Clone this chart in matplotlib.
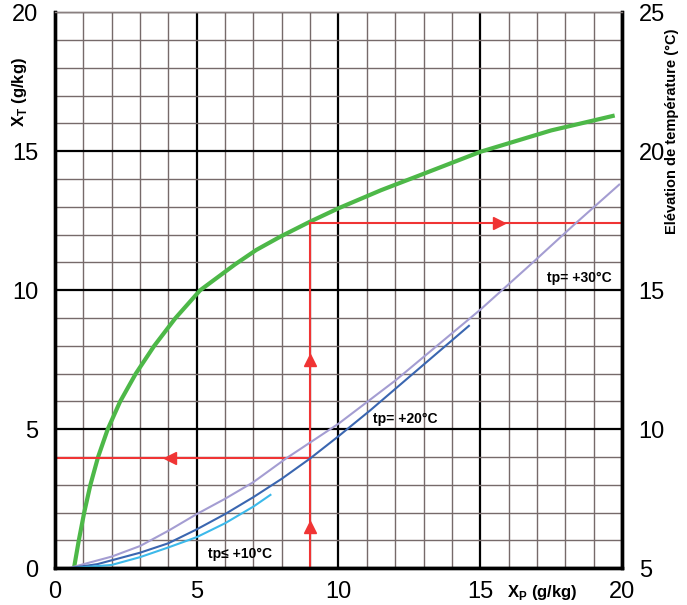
import matplotlib
matplotlib.use('Agg')
import matplotlib.pyplot as plt
from matplotlib.ticker import MultipleLocator

plt.rcParams['font.family'] = ['Liberation Sans', 'DejaVu Sans']
plt.rcParams['mathtext.fontset'] = 'custom'
plt.rcParams['mathtext.rm'] = 'Liberation Sans:bold'

# courbe verte : XT = f(XP)
green_x = [0.67, 0.84, 1.03, 1.25, 1.52, 1.86, 2.3, 2.85, 3.5, 4.25, 5.12, 6.35,
           7.1, 7.95, 9.0, 10.0, 11.5, 12.9, 15.0, 17.5, 19.67]
green_y = [0, 1, 2, 3, 4, 5, 6, 7, 8, 9, 10, 10.93,
           11.45, 11.93, 12.47, 12.95, 13.6, 14.15, 14.98, 15.75, 16.27]

# élévation de température (axe de droite)
tp30_x = [0.47, 2.0, 3.0, 4.0, 5.0, 6.0, 7.0, 8.15, 10.0, 12.0, 15.0, 16.8, 18.3, 19.9]
tp30_y = [5.0, 5.42, 5.8, 6.35, 6.95, 7.5, 8.1, 8.95, 10.2, 11.75, 14.3, 15.95, 17.35, 18.8]
tp20_x = [0.5, 1.5, 3.0, 4.0, 5.0, 6.0, 7.0, 8.0, 9.0, 10.0, 11.13, 12.0, 14.6]
tp20_y = [5.0, 5.15, 5.56, 5.9, 6.4, 6.95, 7.56, 8.22, 8.95, 9.75, 10.69, 11.45, 13.72]
tp10_x = [0.55, 2.0, 3.0, 4.0, 5.0, 6.0, 7.0, 7.6]
tp10_y = [5.0, 5.12, 5.4, 5.75, 6.12, 6.62, 7.22, 7.64]

# exemple de lecture
xp_read = 9.0
xt_read = 3.95
xt_green = 12.41

fig = plt.figure(figsize=(6.87, 6.05), dpi=100)
ax = fig.add_axes([0.080, 0.0607, 0.8254, 0.919])
ax2 = ax.twinx()

ax.set_xlim(0, 20)
ax.set_ylim(0, 20)
ax2.set_ylim(5, 25)

ax.xaxis.set_major_locator(MultipleLocator(5))
ax.yaxis.set_major_locator(MultipleLocator(5))
ax.xaxis.set_minor_locator(MultipleLocator(1))
ax.yaxis.set_minor_locator(MultipleLocator(1))
ax2.yaxis.set_major_locator(MultipleLocator(5))

ax.grid(which='minor', color='#766a6a', lw=1.0)
ax.grid(which='major', color='black', lw=1.6)
ax.set_axisbelow(True)

ax.tick_params(which='both', length=0, labelsize=17)
ax.tick_params(axis='x', pad=9)
ax.tick_params(axis='y', pad=12)
ax2.tick_params(length=0, labelsize=17, pad=12)

for a in (ax, ax2):
    for s in ('left', 'bottom', 'right'):
        a.spines[s].set_linewidth(2.4)
        a.spines[s].set_color('black')
    a.spines['top'].set_linewidth(1.0)
    a.spines['top'].set_color('#8a8080')

# courbes
ax.plot(green_x, green_y, color='#4db848', lw=3.0, solid_joinstyle='round')
ax2.plot(tp30_x, tp30_y, color='#a49dd2', lw=1.5, solid_joinstyle='round')
ax2.plot(tp20_x, tp20_y, color='#3a66b0', lw=1.5, solid_joinstyle='round')
ax2.plot(tp10_x, tp10_y, color='#3cb9ea', lw=1.5, solid_joinstyle='round')

# lignes de lecture (rouge)
red = '#f03434'
ax.plot([xp_read, xp_read], [0, xt_green], color=red, lw=1.5)
ax.plot([xp_read, 20], [xt_green, xt_green], color=red, lw=1.5)
ax.plot([0, xp_read], [xt_read, xt_read], color=red, lw=1.5)
ax.plot([xp_read, xp_read], [1.5, 7.5], ls='none', marker='^', ms=8, color=red)
ax.plot([15.65], [xt_green], ls='none', marker='>', ms=8, color=red)
ax.plot([4.05], [xt_read], ls='none', marker='<', ms=8, color=red)

ax.text(19.65, 10.45, 'tp= +30°C', fontsize=10, fontweight='bold', ha='right', va='center')
ax.text(11.2, 5.36, 'tp= +20°C', fontsize=10, fontweight='bold', ha='left', va='center')
ax.text(5.4, 0.5, 'tp≤ +10°C', fontsize=10, fontweight='bold', ha='left', va='center')

fig.text(0.029, 0.848, r'X$_\mathrm{T}$ (g/kg)', rotation=90, fontsize=12,
         fontweight='bold', ha='center', va='center')
fig.text(0.790, 0.021, r'X$_\mathrm{P}$ (g/kg)', fontsize=12,
         fontweight='bold', ha='center', va='center')
fig.text(0.978, 0.783, 'Elévation de température (°C)', rotation=90,
         fontsize=10.5, fontweight='bold', ha='center', va='center')

fig.savefig('out.png', dpi=100)
